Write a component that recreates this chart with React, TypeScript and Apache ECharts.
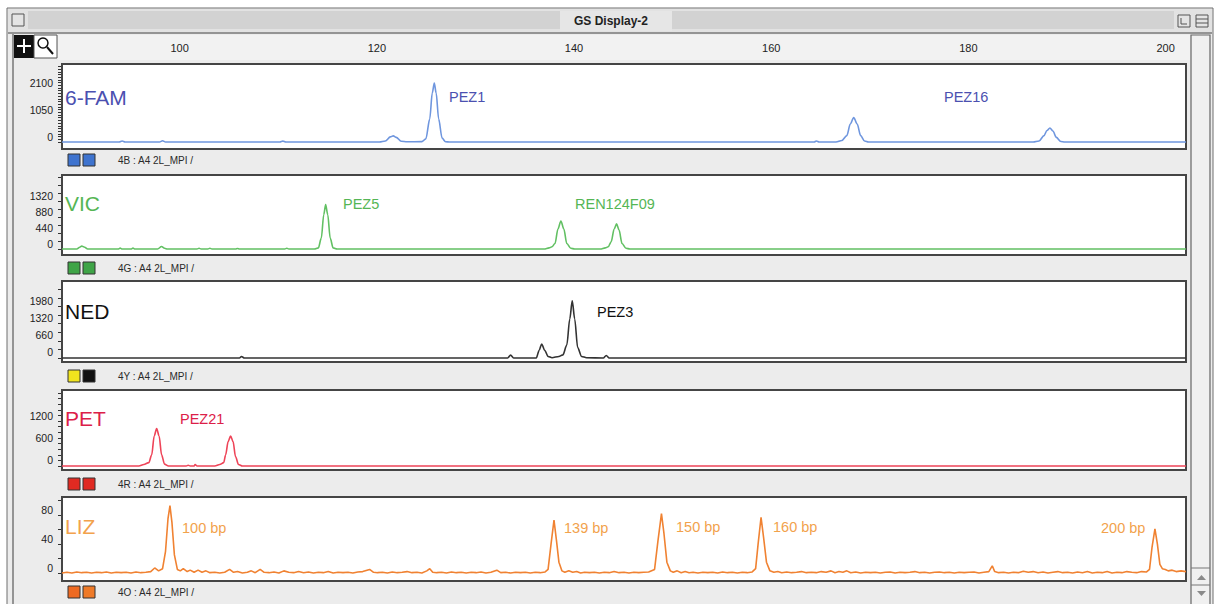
import React, { useEffect, useRef } from "react";
import * as echarts from "echarts";

// ---------- data ----------
const X_MIN = 89;
const X_MAX = 203;
const RULER_TICKS = [100, 120, 140, 160, 180, 200];

const DYES = ["6-FAM", "VIC", "NED", "PET", "LIZ"];
const SAMPLE_IDS = [
  "4B : A4 2L_MPI /",
  "4G : A4 2L_MPI /",
  "4Y : A4 2L_MPI /",
  "4R : A4 2L_MPI /",
  "4O : A4 2L_MPI /",
];

const FAM_LABELS = [0, 1050, 2100];
const VIC_LABELS = [0, 440, 880, 1320];
const NED_LABELS = [0, 660, 1320, 1980];
const PET_LABELS = [0, 600, 1200];
const LIZ_LABELS = [0, 40, 80];

const FAM_PEAK_NAMES = ["PEZ1", "PEZ16"];
const VIC_PEAK_NAMES = ["PEZ5", "REN124F09"];
const NED_PEAK_NAMES = ["PEZ3"];
const PET_PEAK_NAMES = ["PEZ21"];
const LIZ_PEAK_NAMES = ["100 bp", "139 bp", "150 bp", "160 bp", "200 bp"];

const FAM_TRACE = [
  [89, 0], [94.8, 0], [95.1, 40], [95.4, 0], [98.9, 0], [99.2, 50], [99.5, 0],
  [111.1, 0], [111.4, 35], [111.7, 0],
  [121.2, 0], [121.8, 40], [122.3, 200], [122.6, 240], [122.9, 180], [123.4, 30], [124, 10],
  [125.5, 15], [125.9, 120], [126.3, 900], [126.55, 1900], [126.76, 2290], [126.95, 1900],
  [127.2, 900], [127.55, 150], [127.9, 10], [128.3, 0],
  [165.3, 0], [165.5, 40], [165.8, 0], [167.5, 0], [168.1, 60], [168.6, 250], [168.95, 700],
  [169.3, 950], [169.65, 700], [170, 250], [170.4, 40], [170.8, 0],
  [187.5, 0], [188.1, 40], [188.6, 250], [188.9, 450], [189.2, 545], [189.5, 430],
  [189.85, 180], [190.3, 20], [190.7, 0], [203, 0],
];

const VIC_TRACE = [
  [89, 0], [90.5, 0], [90.8, 50], [91.0, 80], [91.3, 50], [91.6, 0], [94.7, 0], [94.9, 25],
  [95.1, 0], [96.0, 0], [96.2, 25], [96.4, 0], [98.7, 0], [99.1, 70], [99.4, 20], [99.7, 0],
  [102.7, 0], [102.9, 20], [103.1, 0], [103.8, 0], [104.0, 20], [104.2, 0], [106.6, 0],
  [106.8, 15], [107.0, 0], [111.6, 0], [111.8, 20], [112.0, 0],
  [114.6, 0], [115.0, 30], [115.3, 300], [115.55, 950], [115.74, 1220], [115.95, 950],
  [116.2, 300], [116.5, 30], [116.9, 0],
  [137.9, 0], [138.4, 30], [138.7, 60], [139.0, 150], [139.3, 550], [139.6, 770],
  [139.9, 550], [140.2, 150], [140.6, 20], [141, 0],
  [143.6, 0], [144.1, 30], [144.4, 60], [144.7, 200], [145.0, 550], [145.25, 690],
  [145.5, 520], [145.8, 150], [146.2, 20], [146.6, 0], [203, 0],
];

const NED_TRACE = [
  [89, 0], [107.0, 0], [107.2, 55], [107.5, 0], [134.2, 0], [134.5, 110], [134.8, 0],
  [137.1, 0], [137.4, 300], [137.65, 540], [137.95, 300], [138.3, 60], [138.7, 10],
  [139.4, 60], [139.8, 120], [140.2, 500], [140.5, 1500], [140.75, 2200], [141.0, 1500],
  [141.3, 400], [141.7, 60], [142.2, 10], [143.9, 0], [144.2, 95], [144.5, 0], [203, 0],
];

const PET_TRACE = [
  [89, 0], [96.8, 0], [97.3, 40], [97.8, 90], [98.1, 300], [98.35, 800], [98.6, 1000],
  [98.85, 800], [99.1, 300], [99.4, 50], [99.8, 0], [101.6, 0], [101.8, 20], [102.0, 0],
  [102.4, 0], [102.5, 40], [102.7, 0], [104.5, 0], [105.0, 40], [105.4, 90], [105.6, 300],
  [105.85, 650], [106.1, 800], [106.35, 650], [106.6, 250], [106.9, 40], [107.3, 0], [203, 0],
];

const LIZ_TRACE = [
  [89, 0], [89.5, 1], [90, 0], [90.5, 1.5], [91, 0.5], [91.5, 1], [92, 0], [92.5, 1], [93, 0.5],
  [93.5, 1.5], [94, 0], [94.5, 1], [95, 0.5], [95.5, 1], [96, 0], [96.5, 1.5], [97, 0.5],
  [97.5, 1], [98, 2], [98.4, 7], [98.8, 3], [99.2, 6], [99.5, 30], [99.75, 75], [99.95, 93],
  [100.15, 70], [100.4, 25], [100.7, 5], [101, 3], [101.3, 6], [101.7, 2], [102, 4], [102.4, 1],
  [102.8, 4], [103.2, 1], [103.6, 3], [104, 0.5], [104.5, 1], [105, 0], [105.5, 1], [106, 5],
  [106.4, 1], [106.8, 2], [107.3, 0], [107.8, 1], [108.2, 3], [108.6, 0.5], [109.1, 5], [109.5, 1],
  [110, 0.5], [110.5, 1.5], [111, 0], [111.5, 3], [112, 1], [112.5, 0.5], [113, 2], [113.5, 0.5],
  [114, 1.5], [114.5, 0], [115, 1], [115.5, 0.5], [116, 2], [116.5, 0], [117, 1], [117.5, 0.5],
  [118, 1], [118.5, 0], [119, 1.5], [119.5, 2], [120.2, 5], [120.6, 1], [121, 0.5], [121.5, 1],
  [122, 0], [122.5, 1.5], [123, 0.5], [123.5, 1], [124, 2], [124.5, 0.5], [125, 1], [125.5, 0],
  [126, 3], [126.3, 6], [126.6, 1], [127, 0.5], [127.5, 1], [128, 0], [128.5, 1.5], [129, 0.5],
  [129.5, 1], [130, 0], [130.5, 1], [131, 0.5], [131.5, 1.5], [132, 0], [132.5, 1], [133.1, 4],
  [133.5, 0.5], [134, 1], [134.5, 0], [135, 1], [135.5, 0.5], [136, 1], [136.5, 0], [137, 1],
  [137.5, 0.5], [138, 1.5], [138.3, 5], [138.6, 40], [138.9, 73], [139.15, 45], [139.4, 15],
  [139.7, 3], [140, 1], [140.4, 3], [140.8, 1], [141.2, 2], [141.6, 0], [142, 1], [142.5, 0.5],
  [143, 1], [143.5, 0], [144, 1], [144.5, 0.5], [145, 2], [145.5, 0.5], [146, 1], [146.5, 0],
  [147, 1], [147.5, 0.5], [148, 1], [148.5, 1.5], [149.1, 5], [149.45, 45], [149.8, 82],
  [150.05, 55], [150.35, 15], [150.7, 3], [151, 1], [151.4, 3], [151.8, 0.5], [152.2, 2],
  [152.6, 0.5], [153, 1], [153.5, 0], [154, 1], [154.5, 0.5], [155, 1], [155.5, 0], [156, 1.5],
  [156.5, 0.5], [157, 1], [157.5, 0], [158, 1], [158.5, 0.5], [159, 1.5], [159.35, 6],
  [159.6, 40], [159.9, 77], [160.15, 50], [160.45, 15], [160.8, 3], [161.2, 1], [161.6, 2],
  [162, 0.5], [162.5, 1.5], [163, 0.5], [163.5, 1], [164, 2], [164.5, 0.5], [165, 1],
  [165.5, 0.5], [166, 2], [166.5, 1], [167, 3], [167.4, 0.5], [167.8, 2], [168.2, 1], [168.6, 3],
  [169, 0.5], [169.5, 1.5], [170, 0], [170.5, 1], [171, 0.5], [171.5, 1], [172, 0], [172.5, 1],
  [173, 1.5], [173.5, 0], [174, 1], [174.5, 0.5], [175, 1], [175.5, 2], [176, 0.5], [176.5, 1],
  [177, 0], [177.5, 1], [178, 1.5], [178.5, 0.5], [179, 1], [179.5, 0], [180, 1], [180.5, 0.5],
  [181, 1], [181.5, 1.5], [182, 0], [182.5, 1], [183, 2], [183.35, 10], [183.6, 2], [184, 0.5],
  [184.5, 1], [185, 0], [185.5, 1], [186, 0.5], [186.5, 2.5], [187, 1], [187.5, 2], [188, 0.5],
  [188.5, 1.5], [189, 0], [189.5, 1], [190, 2], [190.5, 0.5], [191, 1], [191.5, 0], [192, 1.5],
  [192.5, 0.5], [193, 2], [193.5, 0], [194, 1], [194.5, 0.5], [195, 2], [195.5, 0], [196, 1],
  [196.5, 0.5], [197, 2], [197.5, 1], [198, 0.5], [198.5, 2], [199, 1.5], [199.3, 5],
  [199.55, 35], [199.85, 61], [200.1, 40], [200.35, 12], [200.6, 6], [200.9, 5], [201.2, 3],
  [201.6, 4], [202, 2], [202.5, 3], [203, 2],
];

// ---------- layout / style ----------
const FONT = "'Liberation Sans', Arial, Helvetica, sans-serif";
const GRID_LEFT = 62;
const GRID_WIDTH = 1124;

const PANELS = [
  {
    top: 64, height: 85, yMin: -272, yMax: 3034, step: 105, labels: FAM_LABELS, trace: FAM_TRACE,
    line: "#6f96de", text: "#4b50b0", smooth: 0.3, rowY: 160, sq: ["#3f74cf", "#3f74cf"],
    dyeY: 97, peaks: [{ name: FAM_PEAK_NAMES[0], x: 449, y: 97 }, { name: FAM_PEAK_NAMES[1], x: 944, y: 97 }],
  },
  {
    top: 175, height: 80, yMin: -165, yMax: 2035, step: 220, labels: VIC_LABELS, trace: VIC_TRACE,
    line: "#62c063", text: "#55b655", smooth: 0.3, rowY: 268, sq: ["#3fa447", "#3fa447"],
    dyeY: 203, peaks: [{ name: VIC_PEAK_NAMES[0], x: 343, y: 204 }, { name: VIC_PEAK_NAMES[1], x: 575, y: 204 }],
  },
  {
    top: 281, height: 81, yMin: -154, yMax: 2957, step: 330, labels: NED_LABELS, trace: NED_TRACE,
    line: "#333333", text: "#111111", smooth: 0.3, rowY: 376, sq: ["#f0e41e", "#111111"],
    dyeY: 311, peaks: [{ name: NED_PEAK_NAMES[0], x: 597, y: 312 }],
  },
  {
    top: 390, height: 80, yMin: -107, yMax: 2029, step: 150, labels: PET_LABELS, trace: PET_TRACE,
    line: "#ee4458", text: "#dc2048", smooth: 0.3, rowY: 484, sq: ["#e02a22", "#e02a22"],
    dyeY: 418, peaks: [{ name: PET_PEAK_NAMES[0], x: 180, y: 419 }],
  },
  {
    top: 497, height: 84, yMin: -11, yMax: 105, step: 20, labels: LIZ_LABELS, trace: LIZ_TRACE,
    line: "#f08232", text: "#f2a24c", smooth: false, rowY: 592, sq: ["#ee6a22", "#ee7a28"],
    dyeY: 526,
    peaks: [
      { name: LIZ_PEAK_NAMES[0], x: 182, y: 528 },
      { name: LIZ_PEAK_NAMES[1], x: 564, y: 528 },
      { name: LIZ_PEAK_NAMES[2], x: 676, y: 527 },
      { name: LIZ_PEAK_NAMES[3], x: 773, y: 527 },
      { name: LIZ_PEAK_NAMES[4], x: 1101, y: 528 },
    ],
  },
];

function tickList(step: number, max: number) {
  const out: number[] = [];
  for (let v = 0; v <= max; v += step) out.push(v);
  return out;
}

function buildGraphics() {
  const g: any[] = [];
  // window
  g.push({ type: "rect", z: -20, shape: { x: 7, y: 8, width: 1206, height: 600 }, style: { fill: "#ececec", stroke: "#6e6e6e", lineWidth: 1 } });
  // title bar
  g.push({ type: "rect", z: -19, shape: { x: 8, y: 9, width: 1204, height: 23 }, style: { fill: "#e2e2e2" } });
  for (let y = 12; y <= 29; y += 2) {
    g.push({ type: "line", z: -18, shape: { x1: 28, y1: y, x2: 1174, y2: y }, style: { stroke: "#c2c2c2", lineWidth: 1 } });
  }
  g.push({ type: "rect", z: -17, shape: { x: 560, y: 11, width: 112, height: 20 }, style: { fill: "#e6e6e6" } });
  g.push({ type: "text", z: -16, x: 611, y: 21, style: { text: "GS Display-2", fill: "#222", font: `bold 12px ${FONT}`, align: "center", verticalAlign: "middle" } });
  g.push({ type: "rect", z: -16, shape: { x: 12, y: 14, width: 12, height: 12 }, style: { fill: "#e4e4e4", stroke: "#555", lineWidth: 1 } });
  g.push({ type: "rect", z: -16, shape: { x: 1178, y: 15, width: 12, height: 12 }, style: { fill: "#e4e4e4", stroke: "#555", lineWidth: 1 } });
  g.push({ type: "polyline", z: -15, shape: { points: [[1181, 18], [1181, 24], [1187, 24]] }, style: { stroke: "#555", fill: null, lineWidth: 1 } });
  g.push({ type: "rect", z: -16, shape: { x: 1196, y: 15, width: 12, height: 12 }, style: { fill: "#e4e4e4", stroke: "#555", lineWidth: 1 } });
  g.push({ type: "line", z: -15, shape: { x1: 1196, y1: 19, x2: 1208, y2: 19 }, style: { stroke: "#555", lineWidth: 1 } });
  g.push({ type: "line", z: -15, shape: { x1: 1196, y1: 23, x2: 1208, y2: 23 }, style: { stroke: "#555", lineWidth: 1 } });
  g.push({ type: "line", z: -15, shape: { x1: 8, y1: 33, x2: 1212, y2: 33 }, style: { stroke: "#777", lineWidth: 1.5 } });
  // left frame line
  g.push({ type: "line", z: -15, shape: { x1: 13, y1: 34, x2: 13, y2: 604 }, style: { stroke: "#777", lineWidth: 1.5 } });
  // ruler background
  g.push({ type: "rect", z: -15, shape: { x: 58, y: 35, width: 1132, height: 25 }, style: { fill: "#f2f2f2" } });
  // tool buttons
  g.push({ type: "rect", z: -14, shape: { x: 14, y: 35, width: 20, height: 23 }, style: { fill: "#111" } });
  g.push({ type: "line", z: -13, shape: { x1: 17, y1: 46, x2: 31, y2: 46 }, style: { stroke: "#fff", lineWidth: 2 } });
  g.push({ type: "line", z: -13, shape: { x1: 24, y1: 39, x2: 24, y2: 53 }, style: { stroke: "#fff", lineWidth: 2 } });
  g.push({ type: "rect", z: -14, shape: { x: 34, y: 35, width: 23, height: 23 }, style: { fill: "#fff", stroke: "#555", lineWidth: 1 } });
  g.push({ type: "circle", z: -13, shape: { cx: 43, cy: 43, r: 5 }, style: { fill: "none", stroke: "#111", lineWidth: 1.5 } });
  g.push({ type: "line", z: -13, shape: { x1: 47, y1: 47, x2: 53, y2: 54 }, style: { stroke: "#111", lineWidth: 2 } });
  // scrollbar
  g.push({ type: "rect", z: -14, shape: { x: 1191, y: 35, width: 19, height: 570 }, style: { fill: "#f0f0f0", stroke: "#666", lineWidth: 1.2 } });
  g.push({ type: "line", z: -13, shape: { x1: 1191, y1: 568, x2: 1210, y2: 568 }, style: { stroke: "#777", lineWidth: 1 } });
  g.push({ type: "line", z: -13, shape: { x1: 1191, y1: 585, x2: 1210, y2: 585 }, style: { stroke: "#777", lineWidth: 1 } });
  g.push({ type: "polygon", z: -13, shape: { points: [[1197, 580], [1206, 580], [1201.5, 575]] }, style: { fill: "#8a8a8a" } });
  g.push({ type: "polygon", z: -13, shape: { points: [[1197, 591], [1206, 591], [1201.5, 596]] }, style: { fill: "#8a8a8a" } });

  PANELS.forEach((p, i) => {
    // sample row
    g.push({ type: "rect", z: 5, shape: { x: 68, y: p.rowY - 6, width: 12, height: 12 }, style: { fill: p.sq[0], stroke: "#333", lineWidth: 1 } });
    g.push({ type: "rect", z: 5, shape: { x: 83, y: p.rowY - 6, width: 12, height: 12 }, style: { fill: p.sq[1], stroke: "#333", lineWidth: 1 } });
    g.push({ type: "text", z: 5, x: 118, y: p.rowY, style: { text: SAMPLE_IDS[i], fill: "#2a2a2a", font: `10px ${FONT}`, align: "left", verticalAlign: "middle" } });
    // dye name
    g.push({ type: "text", z: 10, x: 65, y: p.dyeY, style: { text: DYES[i], fill: p.text, font: `21px ${FONT}`, align: "left", verticalAlign: "middle" } });
    // peak names
    p.peaks.forEach((pk) => {
      g.push({ type: "text", z: 10, x: pk.x, y: pk.y, style: { text: pk.name, fill: p.text, font: `14.5px ${FONT}`, align: "left", verticalAlign: "middle" } });
    });
  });
  return g;
}

export default function App() {
  const ref = useRef<HTMLDivElement>(null);
  useEffect(() => {
    if (!ref.current) return;
    const chart = echarts.init(ref.current, undefined, { renderer: "svg" });
    const grids = PANELS.map((p) => ({
      left: GRID_LEFT, width: GRID_WIDTH, top: p.top, height: p.height,
      show: true, backgroundColor: "#ffffff", borderColor: "#454545", borderWidth: 2, z: 1,
    }));
    const xAxes = PANELS.map((p, i) => ({
      gridIndex: i, type: "value", min: X_MIN, max: X_MAX,
      show: i === 0, position: "top", offset: 6,
      axisLine: { show: true, lineStyle: { color: "#333", width: 1 } },
      axisTick: { show: true, length: 4, inside: false, customValues: RULER_TICKS, lineStyle: { color: "#333" } },
      axisLabel: { show: true, customValues: RULER_TICKS, align: "left", margin: 5, fontSize: 11, color: "#222", fontFamily: FONT, formatter: (v: number) => String(v) },
      splitLine: { show: false },
    }));
    const yAxes = PANELS.map((p, i) => ({
      gridIndex: i, type: "value", min: p.yMin, max: p.yMax,
      axisLine: { show: true, lineStyle: { color: "#454545", width: 2 } },
      axisTick: { show: true, length: 4, inside: false, customValues: tickList(p.step, p.yMax), lineStyle: { color: "#333", width: 1 } },
      axisLabel: { show: true, customValues: p.labels, verticalAlign: "bottom", margin: 9, fontSize: 10.5, color: "#222", fontFamily: FONT, formatter: (v: number) => String(v) },
      splitLine: { show: false },
    }));
    const series = PANELS.map((p, i) => ({
      type: "line", xAxisIndex: i, yAxisIndex: i, data: p.trace,
      symbol: "none", showSymbol: false, smooth: p.smooth, smoothMonotone: "x",
      lineStyle: { color: p.line, width: 1.6 }, z: 3, silent: true,
    }));
    chart.setOption({
      animation: false,
      backgroundColor: "#ffffff",
      grid: grids,
      xAxis: xAxes,
      yAxis: yAxes,
      series,
      graphic: { elements: buildGraphics() },
    });
    return () => chart.dispose();
  }, []);
  return (
    <div
      ref={ref}
      style={{ position: "absolute", left: 0, top: 0, width: 1216, height: 604 }}
    />
  );
}
